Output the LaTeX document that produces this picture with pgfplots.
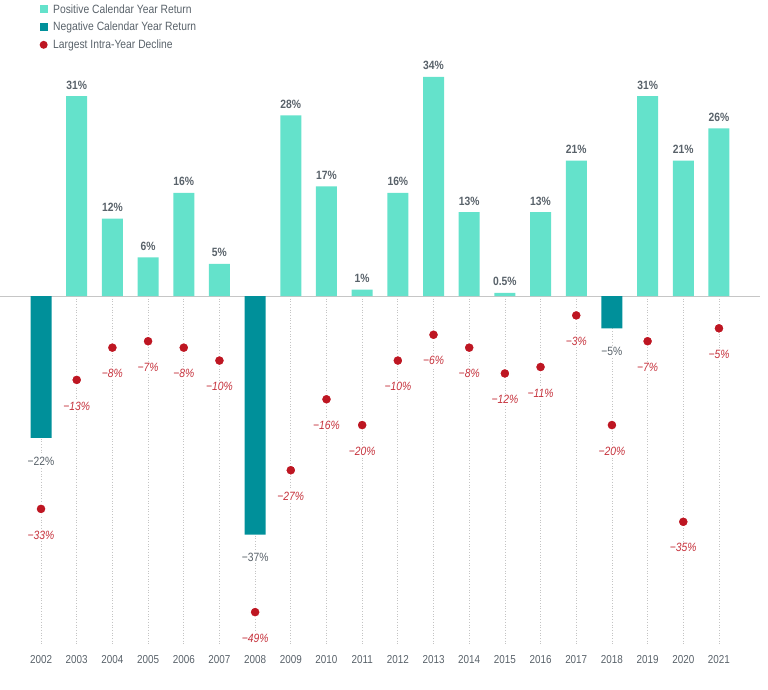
\documentclass[border=0pt]{standalone}
\usepackage{pgfplots}
\pgfplotsset{compat=1.18}
\usepackage{fontspec}
\setmainfont{Liberation Sans}[FakeStretch=0.86]
\definecolor{posc}{HTML}{64E2CB}
\definecolor{negc}{HTML}{00909A}
\definecolor{dotred}{HTML}{BE1622}
\definecolor{lblred}{HTML}{C6323C}
\definecolor{lblgray}{HTML}{59626A}
\definecolor{gridgray}{HTML}{C4C4C4}
\begin{document}
\begin{tikzpicture}
\useasboundingbox (0,0) rectangle (768bp,-690bp);
\begin{axis}[
  at={(0,0)}, anchor=north west,
  scale only axis, width=760bp, height=645bp,
  xmin=-1.15, xmax=20.15, ymin=-54.1, ymax=45.9,
  axis line style={draw=none},
  ytick=\empty,
  xtick={0,1,2,3,4,5,6,7,8,9,10,11,12,13,14,15,16,17,18,19},
  xticklabels={2002,2003,2004,2005,2006,2007,2008,2009,2010,2011,2012,2013,2014,2015,2016,2017,2018,2019,2020,2021},
  major tick length=0pt,
  xticklabel style={font=\fontsize{11.5bp}{13bp}\selectfont, text=lblgray, yshift=-7bp},
  clip=false,
  legend style={at={(rel axis cs:0.048,0.999)}, anchor=north west, draw=none, fill=none,
    font=\fontsize{12bp}{14bp}\selectfont, text=lblgray, row sep=4.5bp,
    nodes={inner sep=1.5bp}},
  legend cell align=left,
]
\addlegendimage{legend image code/.code={\fill[fill=posc, draw=none] (0bp,-4bp) rectangle (8bp,4bp); \path[draw=none] (0bp,0) -- (12bp,0);}}
\addlegendentry{Positive Calendar Year Return}
\addlegendimage{legend image code/.code={\fill[fill=negc, draw=none] (0bp,-4bp) rectangle (8bp,4bp); \path[draw=none] (0bp,0) -- (12bp,0);}}
\addlegendentry{Negative Calendar Year Return}
\addlegendimage{legend image code/.code={\fill[fill=dotred, draw=none] (4bp,0) circle (4bp); \path[draw=none] (0bp,0) -- (12bp,0);}}
\addlegendentry{Largest Intra-Year Decline}

% dotted guide lines
\addplot[ycomb, gridgray, dotted, line width=0.7bp, forget plot, mark=none] coordinates {
(0,-54.1) (1,-54.1) (2,-54.1) (3,-54.1) (4,-54.1) (5,-54.1) (6,-54.1) (7,-54.1) (8,-54.1) (9,-54.1)
(10,-54.1) (11,-54.1) (12,-54.1) (13,-54.1) (14,-54.1) (15,-54.1) (16,-54.1) (17,-54.1) (18,-54.1) (19,-54.1)};

% zero line
\addplot[gray!45, line width=0.8bp, forget plot, mark=none] coordinates {(-1.15,0) (20.15,0)};

% positive calendar year returns
\addplot[ybar, bar width=21bp, bar shift=0pt, fill=posc, draw=none, forget plot,
  nodes near coords, point meta=explicit symbolic,
  nodes near coords style={anchor=center, yshift=11bp, font=\fontsize{12bp}{14bp}\selectfont\bfseries, text=lblgray}]
coordinates {
(1,31)[31\%] (2,12)[12\%] (3,6)[6\%] (4,16)[16\%] (5,5)[5\%] (7,28)[28\%] (8,17)[17\%]
(9,1)[1\%] (10,16)[16\%] (11,34)[34\%] (12,13)[13\%] (13,0.5)[0.5\%] (14,13)[13\%]
(15,21)[21\%] (17,31)[31\%] (18,21)[21\%] (19,26)[26\%]};

% negative calendar year returns
\addplot[ybar, bar width=21bp, bar shift=0pt, fill=negc, draw=none, forget plot,
  nodes near coords, point meta=explicit symbolic,
  nodes near coords style={anchor=center, yshift=-23bp, fill=white, inner sep=1.5bp,
    font=\fontsize{12bp}{14bp}\selectfont, text=lblgray}]
coordinates {(0,-22)[−22\%] (6,-37)[−37\%] (16,-5)[−5\%]};

% largest intra-year decline
\addplot[only marks, mark=*, mark size=5.2bp, forget plot,
  mark options={fill=dotred, draw=white, line width=1.4bp},
  nodes near coords, point meta=explicit symbolic,
  nodes near coords style={anchor=center, yshift=-26bp, fill=white, inner sep=1.5bp,
    font=\fontsize{12bp}{14bp}\selectfont\itshape, text=lblred}]
coordinates {
(0,-33)[−33\%] (1,-13)[−13\%] (2,-8)[−8\%] (3,-7)[−7\%] (4,-8)[−8\%] (5,-10)[−10\%]
(6,-49)[−49\%] (7,-27)[−27\%] (8,-16)[−16\%] (9,-20)[−20\%] (10,-10)[−10\%] (11,-6)[−6\%]
(12,-8)[−8\%] (13,-12)[−12\%] (14,-11)[−11\%] (15,-3)[−3\%] (16,-20)[−20\%] (17,-7)[−7\%]
(18,-35)[−35\%] (19,-5)[−5\%]};
\end{axis}
\end{tikzpicture}
\end{document}
